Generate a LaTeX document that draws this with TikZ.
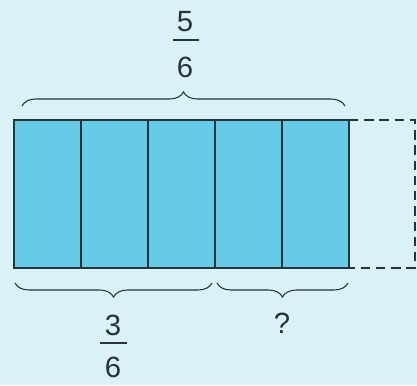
\documentclass[tikz,border=0pt]{standalone}
\usepackage{fontspec}
\setmainfont{Liberation Sans}
\usetikzlibrary{calc,decorations.pathreplacing}
\definecolor{bgblue}{HTML}{D9F1F7}
\definecolor{cellblue}{HTML}{66CBE7}
\definecolor{inkgray}{HTML}{28323A}

\begin{document}
\begin{tikzpicture}[x=0.03cm,y=-0.03cm,
		digit/.style={inner sep=0pt,font=\fontsize{25}{30}\selectfont,text=inkgray},
		curly/.style={draw=inkgray,line width=0.9pt,decorate,decoration={brace,amplitude=0.42cm}},
		fracbar/.style={draw=inkgray,line width=1.1pt}]
		\useasboundingbox[fill=bgblue] (0,0) rectangle (417,385);
		\coordinate (A) at (14,120);
		\coordinate (B) at (349,268);
		\coordinate (E) at (415,268);
		% cells
		\fill[cellblue] (A) rectangle (B);
		\foreach \x in {81,148,215,282} {
			\draw[inkgray,line width=1.6pt] (\x,120) -- (\x,268);
		}
		\draw[inkgray,line width=1.8pt] (A) rectangle (B);
		% missing sixth
		\draw[inkgray,line width=2pt,dash pattern=on 8pt off 5pt] (349,120) -- (415,120) -- (E) -- (B);
		% braces
		\draw[curly] (22,106) -- (345,106);
		\draw[curly] (212,283) -- (15,283);
		\draw[curly] (348,283) -- (217,283);
		% labels
		\node[digit] (n5) at (185,22) {5};
		\node[digit] (d6) at (185,67) {6};
		\draw[fracbar] ($(n5)+(-12,18)$) -- ($(n5)+(14,18)$);
		\node[digit] (n3) at (113,325) {3};
		\node[digit] (d6b) at (113,367) {6};
		\draw[fracbar] ($(n3)+(-13,18)$) -- ($(n3)+(14,18)$);
		\node[digit] (q) at (282,323) {?};
	\end{tikzpicture}
\end{document}
